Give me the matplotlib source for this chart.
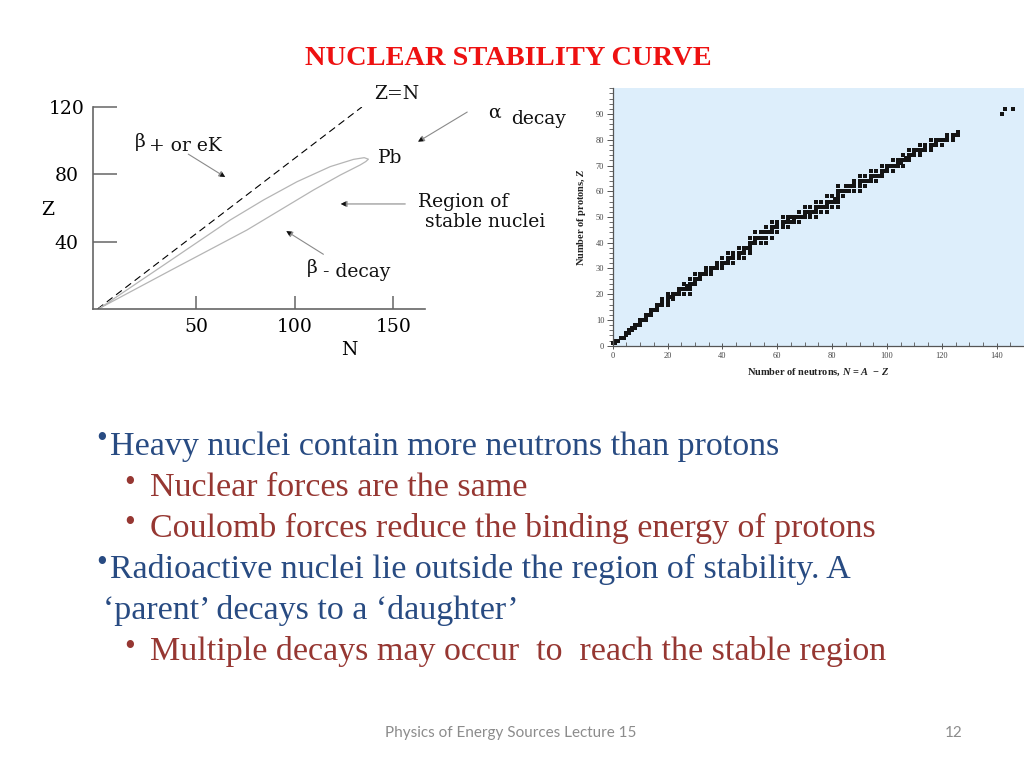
import matplotlib
matplotlib.use("Agg")
import matplotlib.pyplot as plt
from matplotlib.ticker import MultipleLocator

# ---- right panel: stable nuclides (Z, mass numbers A) ----
proton_numbers = [1, 2, 3, 4, 5, 6, 7, 8, 9, 10, 11, 12, 13, 14, 15, 16, 17, 18, 19, 20,
                  21, 22, 23, 24, 25, 26, 27, 28, 29, 30, 31, 32, 33, 34, 35, 36, 37, 38, 39, 40,
                  41, 42, 44, 45, 46, 47, 48, 49, 50, 51, 52, 53, 54, 55, 56, 57, 58, 59, 60,
                  62, 63, 64, 65, 66, 67, 68, 69, 70, 71, 72, 73, 74, 75, 76, 77, 78, 79, 80,
                  81, 82, 83, 90, 92]
mass_numbers = [
    [1, 2], [3, 4], [6, 7], [9], [10, 11], [12, 13], [14, 15], [16, 17, 18], [19],
    [20, 21, 22], [23], [24, 25, 26], [27], [28, 29, 30], [31], [32, 33, 34, 36],
    [35, 37], [36, 38, 40], [39, 40, 41], [40, 42, 43, 44, 46, 48], [45],
    [46, 47, 48, 49, 50], [50, 51], [50, 52, 53, 54], [55], [54, 56, 57, 58], [59],
    [58, 60, 61, 62, 64], [63, 65], [64, 66, 67, 68, 70], [69, 71], [70, 72, 73, 74, 76],
    [75], [74, 76, 77, 78, 80, 82], [79, 81], [78, 80, 82, 83, 84, 86], [85, 87],
    [84, 86, 87, 88], [89], [90, 91, 92, 94, 96], [93], [92, 94, 95, 96, 97, 98, 100],
    [96, 98, 99, 100, 101, 102, 104], [103], [102, 104, 105, 106, 108, 110], [107, 109],
    [106, 108, 110, 111, 112, 113, 114, 116], [113, 115],
    [112, 114, 115, 116, 117, 118, 119, 120, 122, 124], [121, 123],
    [120, 122, 123, 124, 125, 126, 128, 130], [127],
    [124, 126, 128, 129, 130, 131, 132, 134, 136], [133],
    [130, 132, 134, 135, 136, 137, 138], [138, 139], [136, 138, 140, 142], [141],
    [142, 143, 144, 145, 146, 148, 150], [144, 147, 148, 149, 150, 152, 154], [151, 153],
    [152, 154, 155, 156, 157, 158, 160], [159], [156, 158, 160, 161, 162, 163, 164], [165],
    [162, 164, 166, 167, 168, 170], [169], [168, 170, 171, 172, 173, 174, 176], [175, 176],
    [174, 176, 177, 178, 179, 180], [180, 181], [180, 182, 183, 184, 186], [185, 187],
    [184, 186, 187, 188, 189, 190, 192], [191, 193], [190, 192, 194, 195, 196, 198], [197],
    [196, 198, 199, 200, 201, 202, 204], [203, 205], [204, 206, 207, 208], [209],
    [232], [235, 238],
]

# ---- left panel: schematic ----
zn_line_n = [0, 134]
zn_line_z = [0, 120]
loop_n = [1.3, 34.3, 67.3, 84.2, 101.1, 118.0, 129.8, 135.2, 137.3, 136.0,
          133.2, 123.1, 109.5, 92.6, 75.7, 36.8, 1.3]
loop_z = [0.6, 26.7, 52.9, 64.8, 75.6, 84.6, 88.9, 89.9, 89.0, 87.6,
          85.6, 79.6, 70.7, 58.8, 46.9, 22.8, 0.6]
left_xticks = [50, 100, 150]
left_yticks = [40, 80, 120]

title = "NUCLEAR STABILITY CURVE"
bullet_lines = [
    ("Heavy nuclei contain more neutrons than protons", 0, True),
    ("Nuclear forces are the same", 1, True),
    ("Coulomb forces reduce the binding energy of protons", 1, True),
    ("Radioactive nuclei lie outside the region of stability. A", 0, True),
    ("\u2018parent\u2019 decays to a \u2018daughter\u2019", 0, False),
    ("Multiple decays may occur  to  reach the stable region", 1, True),
]
footer = "Physics of Energy Sources Lecture 15"
page_no = "12"

W, H = 1024, 768
fig = plt.figure(figsize=(W / 100, H / 100), dpi=100)
fig.patch.set_facecolor("white")
plt.rcParams["mathtext.fontset"] = "custom"
plt.rcParams["mathtext.it"] = "Liberation Serif:italic:bold"


def fx(px):
    return px / W


def fy(py):
    return 1 - py / H


# title
fig.text(fx(508.5), fy(65), title, color="#ee1111", fontsize=20.4, fontweight="bold",
         family="Liberation Serif", ha="center", va="baseline")

# ---------------- left schematic ----------------
serif = "DejaVu Serif"
fs = 13.5
axL = fig.add_axes([fx(93), fy(309), (425 - 93) / W, (309 - 107) / H])
axL.set_xlim(-2.3, 166)
axL.set_ylim(0, 120)
axL.plot(zn_line_n, zn_line_z, color="black", lw=0.8, ls=(0, (6.5, 4)))
axL.plot(loop_n, loop_z, color="#b5b5b5", lw=0.9)
for s in ["top", "right"]:
    axL.spines[s].set_visible(False)
for s in ["left", "bottom"]:
    axL.spines[s].set_color("#666666")
    axL.spines[s].set_linewidth(1.2)
axL.set_xticks(left_xticks, [str(v) for v in left_xticks])
axL.set_yticks(left_yticks, [str(v) for v in left_yticks])
axL.tick_params(axis="x", direction="in", length=9.5, width=1.1, color="#666666",
                pad=6.5, labelsize=fs)
axL.tick_params(axis="y", direction="in", length=17, width=1.1, color="#666666",
                pad=19, labelsize=fs)
for t in axL.get_xticklabels() + axL.get_yticklabels():
    t.set_family(serif)
for t in axL.get_yticklabels():
    t.set_ha("center")
axL.set_xlabel("N", family=serif, fontsize=fs)
axL.xaxis.set_label_coords((349 - 93) / 332, -(350 - 309) / 202)
axL.xaxis.label.set_va("center")
axL.set_ylabel("Z", family=serif, fontsize=fs, rotation=0, va="center", ha="center")
axL.yaxis.set_label_coords((47.5 - 93) / 332, 0.49)

txt = dict(family=serif, fontsize=fs, va="center", ha="left", color="#111111")
axL.text(140.4, 127.7, "Z=N", **txt)
axL.text(19.0, 99.4, "\u03b2", **txt)
axL.text(26.1, 96.6, "+ or eK", **txt)
axL.text(198.0, 116.5, "\u03b1", **txt)
axL.text(209.6, 113.0, "decay", **txt)
axL.text(142.0, 89.7, "Pb", **txt)
axL.text(162.5, 63.8, "Region of", **txt)
axL.text(166.0, 51.9, "stable nuclei", **txt)
axL.text(106.3, 24.4, "\u03b2", **txt)
axL.text(114.5, 22.2, "- decay", **txt)

arrows = [((46, 92), (64.7, 78.4)),
          ((187.4, 117), (162.5, 99.4)),
          ((156, 62.4), (123.3, 62.4)),
          ((114.5, 32.5), (95.7, 46.3))]
for tail, head in arrows:
    axL.annotate("", xy=head, xytext=tail, annotation_clip=False,
                 arrowprops=dict(arrowstyle="-|>", color="#8a8a8a", lw=0.8,
                                 mutation_scale=9, shrinkA=0, shrinkB=0))
    axL.annotate("", xy=head, xytext=tail, annotation_clip=False,
                 arrowprops=dict(arrowstyle="-|>", color="#111111", lw=0,
                                 mutation_scale=9, shrinkA=0, shrinkB=0))

# ---------------- right chart ----------------
neutrons, protons = [], []
for z, alist in zip(proton_numbers, mass_numbers):
    for a in alist:
        neutrons.append(a - z)
        protons.append(z)

rserif = "Liberation Serif"
axR = fig.add_axes([fx(612.7), fy(345.7), 411.5 / W, 257.4 / H])
axR.set_facecolor("#ddeefb")
axR.set_xlim(0, 150)
axR.set_ylim(0, 100)
axR.plot(neutrons, protons, ls="none", marker="s", markersize=2.35,
         markerfacecolor="#141414", markeredgewidth=0, clip_on=False)
for s in ["top", "right"]:
    axR.spines[s].set_visible(False)
for s in ["left", "bottom"]:
    axR.spines[s].set_color("#555555")
    axR.spines[s].set_linewidth(0.9)
axR.xaxis.set_major_locator(MultipleLocator(20))
axR.xaxis.set_minor_locator(MultipleLocator(5))
axR.yaxis.set_major_locator(MultipleLocator(10))
axR.yaxis.set_minor_locator(MultipleLocator(2))
axR.set_yticks(range(0, 100, 10))
axR.set_xticks(range(0, 150, 20))
axR.tick_params(axis="x", which="major", direction="inout", length=5, width=0.7,
                color="#555555", labelsize=6, labelcolor="#444444", pad=2)
axR.tick_params(axis="x", which="minor", direction="in", length=3, width=0.6,
                color="#555555")
axR.tick_params(axis="y", which="major", direction="out", length=4, width=0.7,
                color="#555555", labelsize=6, labelcolor="#444444", pad=2)
axR.tick_params(axis="y", which="minor", direction="out", length=3, width=0.6,
                color="#555555")
for t in axR.get_xticklabels() + axR.get_yticklabels():
    t.set_family(rserif)
axR.set_xlabel("Number of neutrons, $\\mathit{N}$ = $\\mathit{A}$  \u2212 $\\mathit{Z}$",
               family=rserif, fontsize=7.5, fontweight="bold", color="#222222")
axR.xaxis.set_label_coords((818 - 612.7) / 411.5, -(372.7 - 345.7) / 257.4)
axR.xaxis.label.set_va("center")
axR.set_ylabel("Number of protons, $\\mathit{Z}$", family=rserif, fontsize=7.5,
               fontweight="bold", color="#222222")
axR.yaxis.set_label_coords((581.7 - 612.7) / 411.5, 0.5)
axR.yaxis.label.set_va("center")

# ---------------- slide text ----------------
blue = "#284b82"
red = "#963732"
base = 455
for i, (line, level, bullet) in enumerate(bullet_lines):
    y = base + 41 * i
    col = blue if level == 0 else red
    if level == 0:
        x_text = 110 if bullet else 103
        x_bul = 96
        y_bul = y - 15
    else:
        x_text = 150
        x_bul = 124
        y_bul = y - 13
    if bullet:
        fig.text(fx(x_bul), fy(y_bul), "\u2022", color=col, fontsize=22,
                 family="Liberation Serif", ha="left", va="center")
    fig.text(fx(x_text), fy(y), line, color=col, fontsize=24.5,
             family="Liberation Serif", ha="left", va="baseline")

fig.text(fx(511), fy(733), footer, color="#8c8c8c", fontsize=11, family="Lato",
         ha="center", va="center")
fig.text(fx(954), fy(733), page_no, color="#8c8c8c", fontsize=11, family="Lato",
         ha="center", va="center")

fig.savefig("out.png", dpi=100)
